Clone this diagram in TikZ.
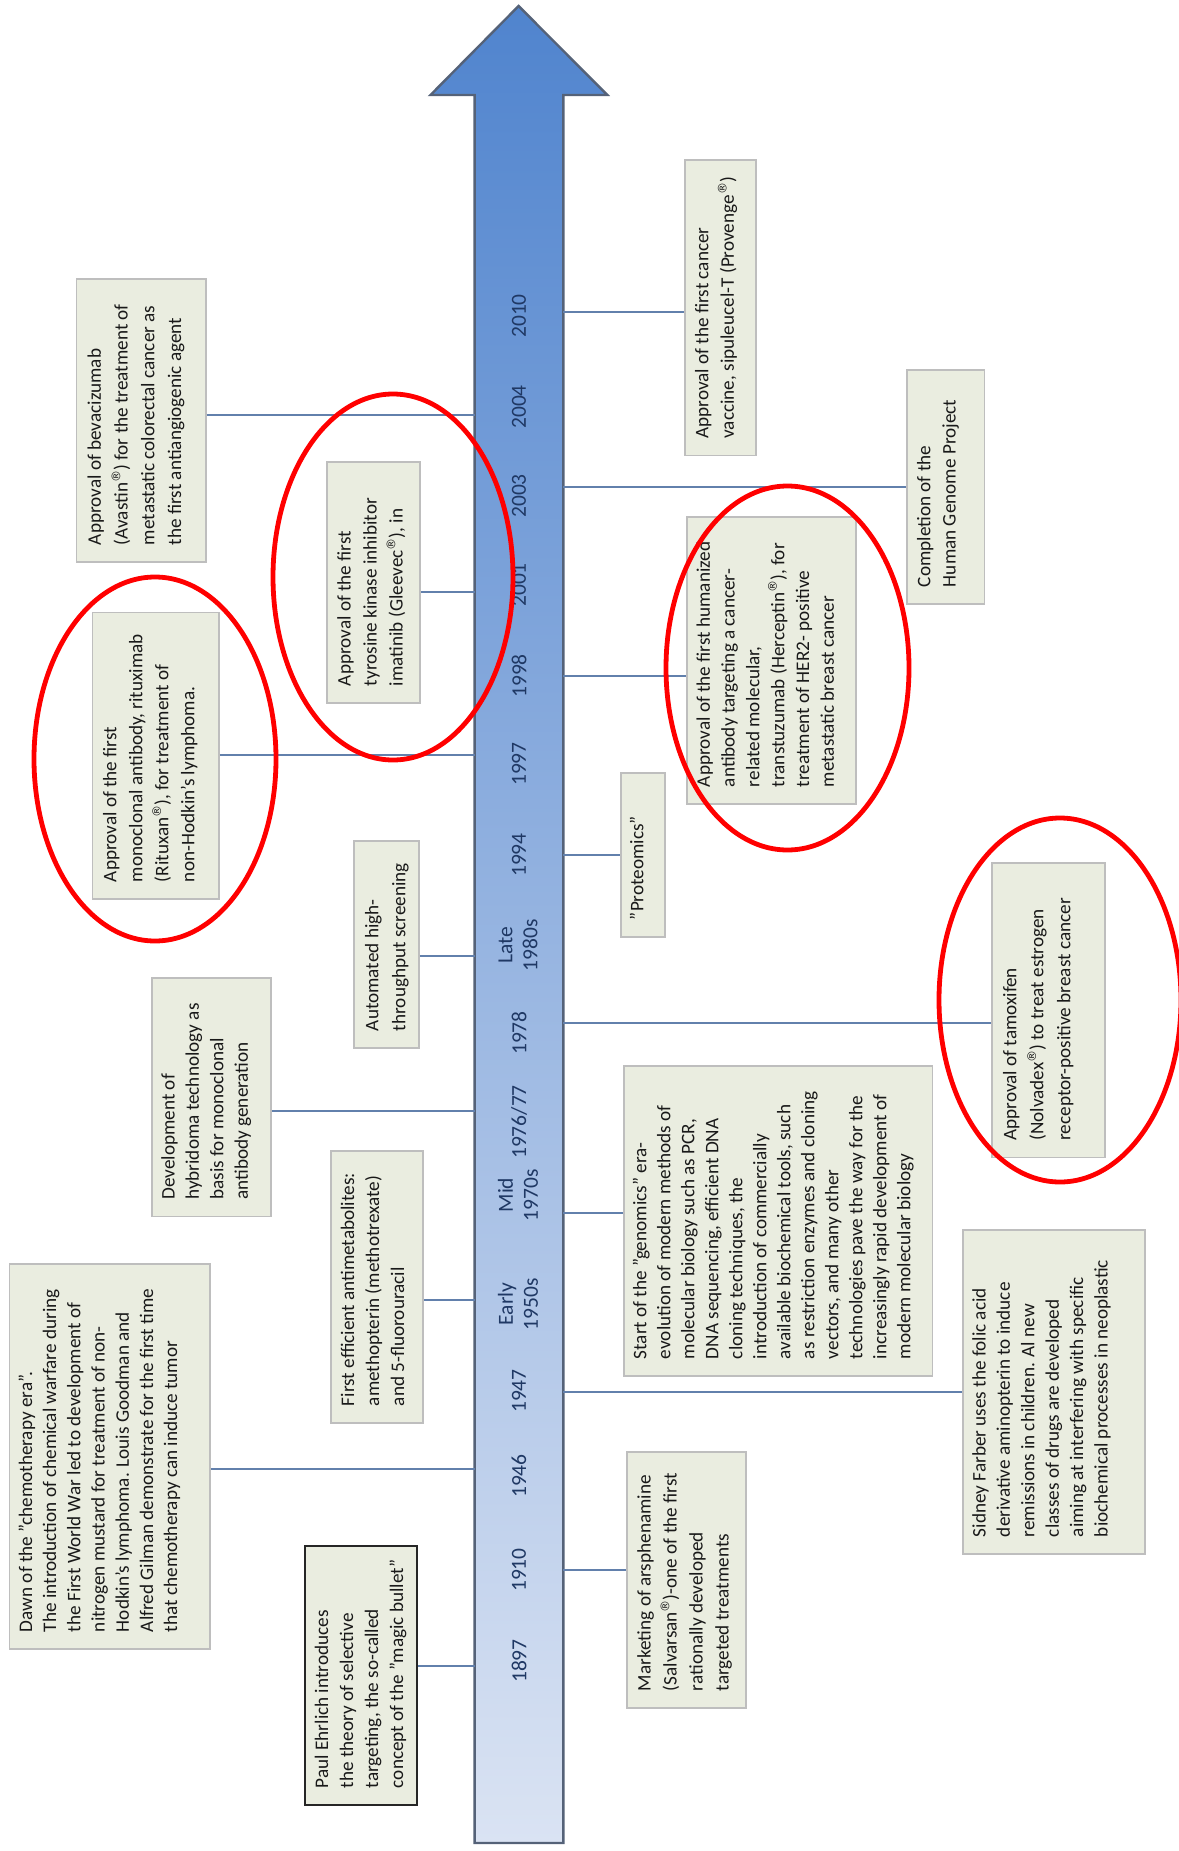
\documentclass[tikz,border=0pt]{standalone}
\usepackage{fontspec}
\setmainfont{Carlito}
\newfontfamily\regfont{DejaVu Sans}
\definecolor{boxfill}{RGB}{234,237,224}
\definecolor{boxline}{RGB}{190,190,190}
\definecolor{conncol}{RGB}{98,128,172}
\definecolor{arrowtop}{RGB}{80,132,206}
\definecolor{arrowbot}{RGB}{218,227,243}
\definecolor{arrowline}{RGB}{85,98,120}
\definecolor{yearcol}{RGB}{31,56,100}
\definecolor{textcol}{RGB}{25,25,25}
\newcommand\regmark{\raisebox{0.38em}{\regfont\fontsize{6pt}{6pt}\selectfont ®}}
\newcommand\bt[4]{\parbox[c][#2][t]{#1}{\fontsize{9.6pt}{#3}\selectfont\begin{tabular}[t]{@{}l@{}}#4\end{tabular}}}
\begin{document}
\begin{tikzpicture}[x=0.5pt,y=-0.5pt,
  evbox/.style={draw=boxline, line width=0.8pt, fill=boxfill, rotate=90, inner xsep=8.5pt, inner ysep=2.75pt, text=textcol},
  keybox/.style={evbox, draw=black!85, line width=1.3pt},
  year/.style={rotate=90, text=yearcol, font=\fontsize{10.75pt}{12.5pt}\selectfont, align=center},
  conn/.style={draw=conncol, line width=1pt},
  ring/.style={draw=red, line width=2.4pt}]
\useasboundingbox (0,0) rectangle (1178,1851);

% timeline arrow
\path[draw=arrowline, line width=1.2pt, top color=arrowtop, bottom color=arrowbot]
  (474.6,1843) -- (474.6,95) -- (430.5,95) -- (518.6,6) -- (607.3,95) -- (563.3,95) -- (563.3,1843) -- cycle;

% shaft edge points
\coordinate (eAvastin) at (474.6,415);
\coordinate (eGleevec) at (474.6,592);
\coordinate (eRituxan) at (474.6,755);
\coordinate (eHTS) at (474.6,955.6);
\coordinate (eHybrid) at (474.6,1111);
\coordinate (eAntimet) at (474.6,1300);
\coordinate (eDawn) at (474.6,1469);
\coordinate (eEhrlich) at (474.6,1666);
\coordinate (eProvenge) at (563.3,311.6);
\coordinate (eGenome) at (563.3,487);
\coordinate (eHerceptin) at (563.3,676);
\coordinate (eProteomics) at (563.3,854.7);
\coordinate (eTamox) at (563.3,1023);
\coordinate (eGenomics) at (563.3,1213);
\coordinate (eFarber) at (563.3,1392);
\coordinate (eSalvarsan) at (563.3,1570);

% left boxes
\node[evbox] (avastin) at (141.25,420.5) {\bt{124.5pt}{59.25pt}{13.4pt}{Approval of bevacizumab\\(Avastin\regmark) for the treatment of\\metastatic colorectal cancer as\\the first antiangiogenic agent}};
\node[evbox] (gleevec) at (373.5,582.5) {\bt{103.5pt}{41pt}{13pt}{Approval of the first\\tyrosine kinase inhibitor\\imatinib (Gleevec\regmark), in}};
\node[evbox] (rituxan) at (155.8,755.8) {\bt{126.2pt}{57.7pt}{13pt}{Approval of the first\\monoclonal antibody, rituximab\\(Rituxan\regmark), for treatment of\\non-Hodkin's lymphoma.}};
\node[evbox] (hts) at (386.5,944.5) {\bt{86.5pt}{27pt}{13.5pt}{Automated high-\\throughput screening}};
\node[evbox] (hybrid) at (211.5,1097.3) {\bt{102.3pt}{54pt}{12.2pt}{Development of\\hybridoma technology as\\basis for monoclonal\\antibody generation}};
\node[evbox] (antimet) at (377,1287) {\bt{119pt}{40.5pt}{12.5pt}{First efficient antimetabolites:\\amethopterin (methotrexate)\\and 5-fluorouracil}};
\node[evbox] (dawn) at (109.8,1456.5) {\bt{175.5pt}{94.7pt}{12.1pt}{Dawn of the "chemotherapy era".\\The introduction of chemical warfare during\\the First World War led to development of\\nitrogen mustard for treatment of non-\\Hodkin's lymphoma. Louis Goodman and\\Alfred Gilman demonstrate for the first time\\that chemotherapy can induce tumor}};
\node[keybox] (ehrlich) at (361,1675.5) {\bt{112.5pt}{50.5pt}{12.5pt}{Paul Ehrlich introduces\\the theory of selective\\targeting, the so-called\\concept of the "magic bullet"}};

% right boxes
\node[evbox] (provenge) at (720.5,307.75) {\bt{130.75pt}{30pt}{12.75pt}{Approval of the first cancer\\vaccine, sipuleucel-T (Provenge\regmark)}};
\node[evbox] (genome) at (945.75,487) {\bt{100pt}{33.25pt}{12.7pt}{Completion of the\\Human Genome Project}};
\node[evbox] (herceptin) at (771.5,660.5) {\bt{126.5pt}{79pt}{12.4pt}{Approval of the first humanized\\antibody targeting a cancer-\\related molecular,\\transtuzumab (Herceptin\regmark), for\\treatment of HER2- positive\\metastatic breast cancer}};
\node[evbox] (proteomics) at (643,855) {\bt{65pt}{16.5pt}{12pt}{"Proteomics"}};
\node[evbox] (tamox) at (1048.5,1010.25) {\bt{130.25pt}{51pt}{13.5pt}{Approval of tamoxifen\\(Nolvadex\regmark) to treat estrogen\\receptor-positive breast cancer}};
\node[evbox] (genomics) at (778.25,1221) {\bt{138pt}{148.75pt}{12pt}{Start of the "genomics" era-\\evolution of modern methods of\\molecular biology such as PCR,\\DNA sequencing, efficient DNA\\cloning techniques, the\\introduction of commercially\\available biochemical tools, such\\as restriction enzymes and cloning\\vectors, and many other\\technologies pave the way for the\\increasingly rapid development of\\modern molecular biology}};
\node[evbox] (farber) at (1054,1392) {\bt{145pt}{85.5pt}{12.2pt}{Sidney Farber uses the folic acid\\derivative aminopterin to induce\\remissions in children. Al new\\classes of drugs are developed\\aiming at interfering with specific\\biochemical processes in neoplastic}};
\node[evbox] (salvarsan) at (686.5,1580) {\bt{111pt}{54pt}{13pt}{Marketing of arsphenamine\\(Salvarsan\regmark)-one of the first\\rationally developed\\targeted treatments}};

% connectors
\draw[conn] (avastin.south |- eAvastin) -- (eAvastin);
\draw[conn] (gleevec.south |- eGleevec) -- (eGleevec);
\draw[conn] (rituxan.south |- eRituxan) -- (eRituxan);
\draw[conn] (hts.south |- eHTS) -- (eHTS);
\draw[conn] (hybrid.south |- eHybrid) -- (eHybrid);
\draw[conn] (antimet.south |- eAntimet) -- (eAntimet);
\draw[conn] (dawn.south |- eDawn) -- (eDawn);
\draw[conn] (ehrlich.south |- eEhrlich) -- (eEhrlich);
\draw[conn] (eProvenge) -- (provenge.north |- eProvenge);
\draw[conn] (eGenome) -- (genome.north |- eGenome);
\draw[conn] (eHerceptin) -- (herceptin.north |- eHerceptin);
\draw[conn] (eProteomics) -- (proteomics.north |- eProteomics);
\draw[conn] (eTamox) -- (tamox.north |- eTamox);
\draw[conn] (eGenomics) -- (genomics.north |- eGenomics);
\draw[conn] (eFarber) -- (farber.north |- eFarber);
\draw[conn] (eSalvarsan) -- (salvarsan.north |- eSalvarsan);

% years
\node[year] (y2010) at (519,316) {2010};
\node[year] (y2004) at (519,407) {2004};
\node[year] (y2003) at (519,496) {2003};
\node[year] (y2001) at (519,585) {2001};
\node[year] (y1998) at (519,676) {1998};
\node[year] (y1997) at (519,764) {1997};
\node[year] (y1994) at (519,855) {1994};
\node[year] (y1980s) at (518,945) {Late\\1980s};
\node[year] (y1978) at (519,1033) {1978};
\node[year] (y1976) at (519,1122) {1976/77};
\node[year] (y1970s) at (518,1195) {Mid\\1970s};
\node[year] (y1950s) at (518,1304) {Early\\1950s};
\node[year] (y1947) at (519,1391) {1947};
\node[year] (y1946) at (519,1476) {1946};
\node[year] (y1910) at (519,1570) {1910};
\node[year] (y1897) at (519,1661) {1897};

% red highlight ellipses
\draw[ring] (393,577) ellipse [x radius=60pt, y radius=91.5pt];
\draw[ring] (155,759) ellipse [x radius=60.5pt, y radius=91pt];
\draw[ring] (787.5,668) ellipse [x radius=60.75pt, y radius=91pt];
\draw[ring] (1060,1000) ellipse [x radius=60.5pt, y radius=91pt];
\end{tikzpicture}
\end{document}
